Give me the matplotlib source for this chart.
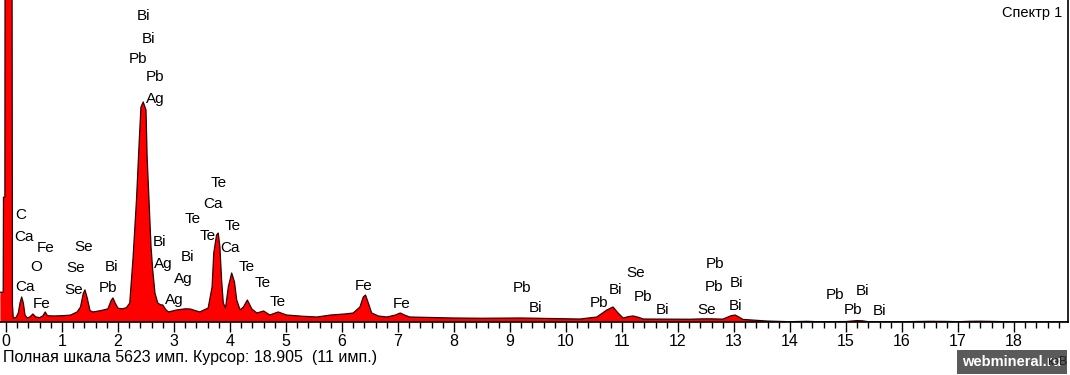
import matplotlib
matplotlib.use("Agg")
import matplotlib.pyplot as plt
from matplotlib.ticker import MultipleLocator

plt.rcParams['font.family'] = ['Liberation Sans', 'DejaVu Sans']

# spectrum: energy (keV) and counts
energy = [-0.10, -0.05, -0.045, -0.02, -0.015, 0.105, 0.115, 0.13, 0.18, 0.22,
          0.25, 0.28, 0.31, 0.34, 0.38, 0.43, 0.48, 0.53, 0.60, 0.66,
          0.70, 0.74, 0.85, 1.00, 1.15, 1.27, 1.33, 1.38, 1.41, 1.45,
          1.50, 1.55, 1.70, 1.82, 1.88, 1.91, 1.95, 2.00, 2.08, 2.15,
          2.21, 2.27, 2.33, 2.38, 2.41, 2.45, 2.50, 2.52, 2.56, 2.59,
          2.62, 2.66, 2.71, 2.76, 2.80, 2.85, 2.90, 3.05, 3.20, 3.29,
          3.38, 3.46, 3.61, 3.68, 3.71, 3.76, 3.79, 3.82, 3.85, 3.88,
          3.92, 3.97, 4.03, 4.08, 4.12, 4.18, 4.24, 4.31, 4.39, 4.48,
          4.60, 4.71, 4.86, 5.01, 5.30, 5.55, 5.80, 6.05, 6.20, 6.32,
          6.38, 6.42, 6.47, 6.53, 6.65, 6.80, 6.95, 7.04, 7.12, 7.21,
          7.50, 7.98, 8.50, 9.18, 9.48, 9.80, 10.25, 10.55, 10.73, 10.84,
          10.93, 11.02, 11.12, 11.20, 11.30, 11.38, 11.80, 12.20, 12.45, 12.60,
          12.80, 12.95, 13.02, 13.10, 13.16, 13.40, 13.59, 13.80, 14.00, 14.30,
          14.50, 15.00, 15.20, 15.30, 15.40, 16.00, 16.50, 16.80, 17.00, 17.20,
          17.40, 17.60, 18.00, 18.96]
counts = [520, 520, 2180, 2180, 9000, 9000, 300, 70, 80, 160,
          330, 437, 330, 120, 70, 90, 140, 90, 75, 110,
          175, 110, 105, 110, 120, 175, 260, 500, 560, 420,
          200, 175, 200, 230, 380, 420, 330, 240, 230, 250,
          332, 1135, 2130, 3178, 3754, 3842, 3702, 2881, 2008, 1310,
          908, 506, 332, 300, 297, 220, 175, 210, 230, 227,
          200, 175, 244, 611, 1205, 1519, 1554, 1310, 733, 332,
          244, 611, 856, 698, 384, 210, 262, 384, 227, 157,
          192, 122, 175, 122, 100, 87, 122, 140, 157, 262,
          437, 471, 332, 157, 105, 87, 120, 157, 120, 87,
          80, 70, 65, 70, 65, 60, 52, 87, 210, 262,
          157, 70, 95, 105, 80, 52, 50, 48, 55, 55,
          50, 110, 122, 80, 45, 30, 17, 10, 5, 12,
          5, 8, 25, 20, 5, 5, 12, 10, 5, 12,
          14, 10, 3, 3]

# peak labels: element, energy, counts
label_text = ['C', 'Ca', 'Fe', 'O', 'Ca', 'Fe',
              'Se', 'Se', 'Se', 'Bi', 'Pb',
              'Bi', 'Bi', 'Pb', 'Pb', 'Ag',
              'Bi', 'Ag', 'Bi', 'Ag', 'Ag',
              'Te', 'Ca', 'Te', 'Te', 'Te', 'Ca', 'Te', 'Te', 'Te',
              'Fe', 'Fe', 'Pb', 'Bi', 'Pb', 'Bi', 'Se', 'Pb', 'Bi',
              'Pb', 'Pb', 'Bi', 'Se', 'Bi', 'Pb', 'Bi', 'Pb', 'Bi']
label_kev = [0.27, 0.32, 0.71, 0.54, 0.34, 0.63,
             1.38, 1.25, 1.20, 1.89, 1.82,
             2.45, 2.55, 2.36, 2.66, 2.66,
             2.75, 2.80, 3.25, 3.16, 3.00,
             3.79, 3.70, 3.34, 3.61, 4.04, 4.00, 4.30, 4.59, 4.86,
             6.39, 7.07, 9.21, 9.45, 10.59, 10.88, 11.25, 11.38, 11.73,
             12.66, 12.64, 13.05, 12.52, 13.02, 14.80, 15.29, 15.13, 15.59]
label_cnt = [1868, 1484, 1292, 960, 611, 314,
             1310, 943, 559, 960, 594,
             5343, 4941, 4592, 4278, 3894,
             1397, 1013, 1135, 751, 384,
             2427, 2060, 1798, 1502, 1676, 1292, 960, 681, 349,
             629, 314, 594, 244, 332, 559, 856, 437, 210,
             1013, 611, 681, 210, 279, 471, 541, 210, 192]

full_scale = 5623

fig = plt.figure(figsize=(10.7, 3.75), dpi=100)
ax = fig.add_axes([0, 53 / 375, 1068 / 1070, 322 / 375])

ax.fill_between(energy, counts, 0, color='#ff0000', linewidth=0, zorder=2)
ax.plot(energy, counts, color='#300000', linewidth=0.9, zorder=3)

for t, x, y in zip(label_text, label_kev, label_cnt):
    ax.text(x, y, t, ha='center', va='center', fontsize=11, color='black', zorder=4)

ax.set_xlim(-6 / 56, 1062 / 56)
ax.set_ylim(0, full_scale)
ax.spines['top'].set_visible(False)
ax.spines['left'].set_visible(False)
ax.spines['right'].set_linewidth(1.2)
ax.spines['bottom'].set_linewidth(1.2)
ax.spines['bottom'].set_zorder(5)
ax.set_yticks([])
ax.xaxis.set_major_locator(MultipleLocator(1))
ax.xaxis.set_minor_locator(MultipleLocator(0.2))
ax.tick_params(axis='x', which='major', length=7, width=1, direction='out', pad=2, labelsize=11.5)
ax.tick_params(axis='x', which='minor', length=4, width=1, direction='out')
ax.set_xticks(range(0, 19))

fig.text(0.993, 0.965, 'Спектр 1', ha='right', va='center', fontsize=10.5)
fig.text(3 / 1070, 0.047, 'Полная шкала 5623 имп. Курсор: 18.905  (11 имп.)',
         ha='left', va='center', fontsize=11.5)
fig.text(1012 / 1070, 0.035, 'webmineral.ru', ha='center', va='center', fontsize=10.5,
         fontweight='bold', color='white', zorder=10,
         bbox=dict(boxstyle='square,pad=0.35', facecolor='#5a5a5a', edgecolor='none'))
# axis unit, mostly covered by the watermark as in the original
fig.text(1067 / 1070, 0.035, 'кэВ', ha='right', va='center', fontsize=9,
         color='#202020', zorder=11)

fig.savefig('out.png', dpi=100)
